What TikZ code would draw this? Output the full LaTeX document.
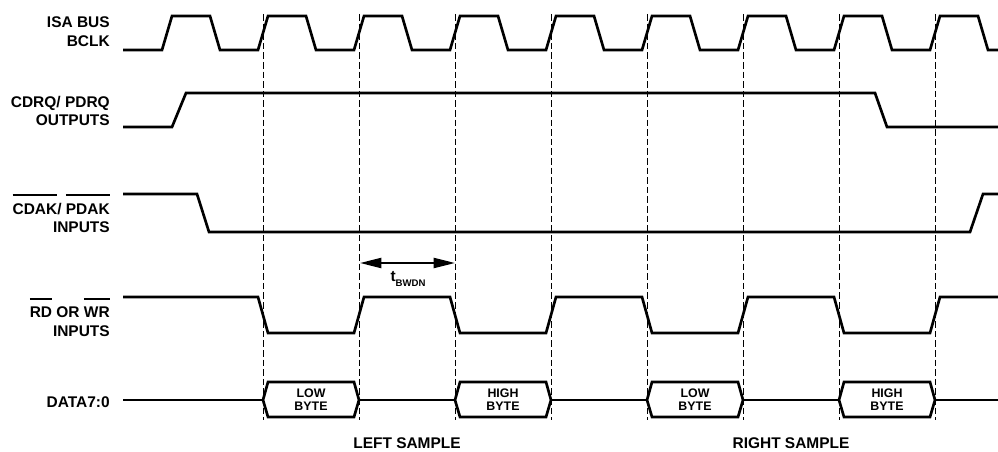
\documentclass[tikz,border=0pt]{standalone}
\usepackage{fontspec}
\setmainfont{Liberation Sans}
\usetikzlibrary{arrows.meta}
% bar over active-low signal names
\newcommand{\ovbar}[1]{\setbox0\hbox{#1}\rlap{\smash{\rule[\dimexpr\ht0+5.5pt\relax]{\wd0}{1.5pt}}}\box0\relax}
\begin{document}
\begin{tikzpicture}[x=0.75pt, y=-0.75pt,
  every node/.style={inner sep=0pt},
  sig/.style={line width=2pt, line join=miter},
  guide/.style={line width=0.7pt, dash pattern=on 5pt off 2.2pt},
  lbl/.style={anchor=east, align=right, font=\fontsize{11.6}{14}\selectfont\bfseries},
  txt/.style={font=\fontsize{11.6}{14}\selectfont\bfseries},
  byte/.style={align=center, font=\fontsize{9.3}{10}\selectfont\bfseries}]
  \useasboundingbox (0,0) rectangle (998,452);

  % clock edges
  \foreach \x in {263,359,...,935}
    \draw[guide] (\x,14) -- (\x,420);

  % signal names
  \node[lbl] (bclk) at (110,32) {ISA BUS\\BCLK};
  \node[lbl] (drq) at (110,111) {CDRQ/ PDRQ\\OUTPUTS};
  \node[lbl] (dak) at (110,218) {\ovbar{CDAK}/ \ovbar{PDAK}\\INPUTS};
  \node[lbl] (rdwr) at (110,322) {\ovbar{RD} OR \ovbar{WR}\\INPUTS};
  \node[lbl] (data) at (110,402) {DATA7:0};

  % waveforms
  \draw[sig] (123,50) foreach \x in {162,258,...,930} {
    -- (\x,50) -- (\x+10,16) -- (\x+48,16) -- (\x+58,50) } -- (998,50);
  \draw[sig] (123,127) -- (172,127) -- (186,93) -- (875,93) -- (887,127) -- (998,127);
  \draw[sig] (123,194) -- (197,194) -- (209,232) -- (970,232) -- (983,194) -- (998,194);
  \draw[sig] (123,297) foreach \x in {258,450,642,834} {
    -- (\x,297) -- (\x+10,333) -- (\x+96,333) -- (\x+106,297) } -- (998,297);

  % data bus
  \draw[sig] (123,400) -- (263,400) (359,400) -- (455,400)
    (551,400) -- (647,400) (743,400) -- (839,400) (935,400) -- (998,400);
  \foreach \a in {263,455,647,839}
    \draw[sig] (\a,400) -- (\a+5,382) -- (\a+91,382) -- (\a+96,400)
      -- (\a+91,417) -- (\a+5,417) -- cycle;
  \node[byte] (lowL) at (311,400) {LOW\\BYTE};
  \node[byte] (highL) at (503,400) {HIGH\\BYTE};
  \node[byte] (lowR) at (695,400) {LOW\\BYTE};
  \node[byte] (highR) at (887,400) {HIGH\\BYTE};

  % read/write width
  \coordinate (bwA) at (360,263);
  \coordinate (bwB) at (455,263);
  \draw[line width=1.5pt, {Triangle[length=16pt,width=7.5pt]}-{Triangle[length=16pt,width=7.5pt]}] (bwA) -- (bwB);
  \node[txt] (tbw) at (408,279) {t\raisebox{-3.5pt}{\fontsize{7.2}{8}\selectfont BWDN}};

  \node[txt] (left) at (407,443) {LEFT SAMPLE};
  \node[txt] (right) at (791,443) {RIGHT SAMPLE};
\end{tikzpicture}
\end{document}
